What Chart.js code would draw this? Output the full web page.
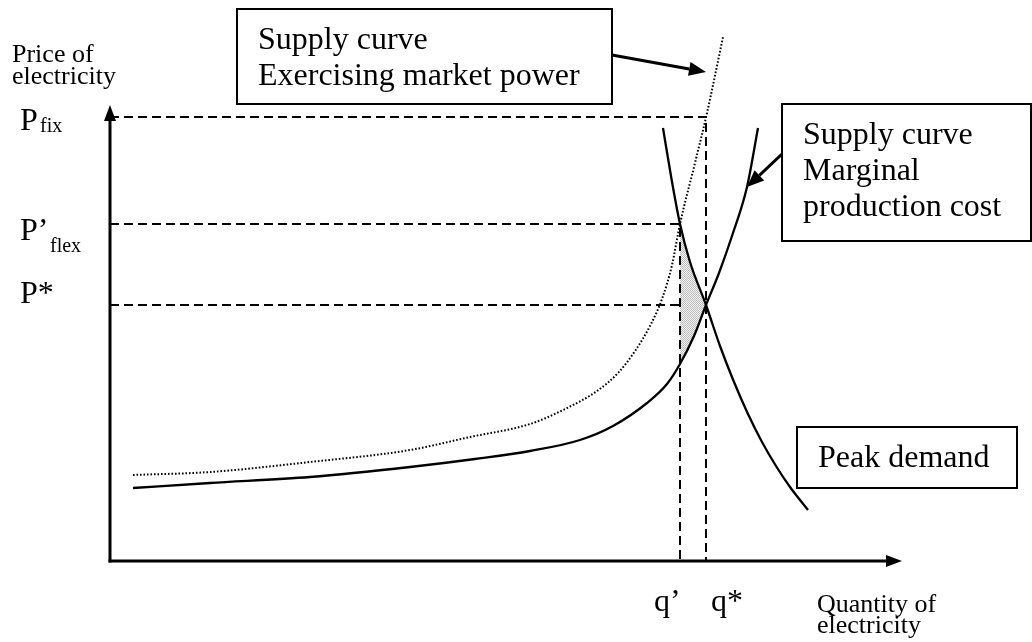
<!DOCTYPE html>
<html>
<head>
<meta charset="utf-8">
<script src="https://cdn.jsdelivr.net/npm/chart.js@4.4.1/dist/chart.umd.min.js"></script>
<style>
  html, body { margin: 0; padding: 0; background: #fff; }
  canvas { display: block; }
</style>
</head>
<body>
<canvas id="chart" width="1032" height="642"></canvas>
<script>
// drawing units: quantity 0..792, price 0..456
const qMax = 792, pMax = 456;

const qPrime = 570, qStar = 596;
const pFix = 444, pFlex = 337, pStar = 256;

// supply curve, marginal production cost (solid)
const mcQ = [23, 100, 200, 300, 365, 420, 470, 503, 537, 557, 570, 584, 596, 609, 622, 637, 648];
const mcP = [73, 78, 84, 94, 102, 110, 121, 135, 158, 177, 197, 225, 256, 288, 325, 374, 433];

// supply curve, exercising market power (dotted)
const mpQ = [23, 100, 200, 300, 360, 420, 453, 487, 508, 525, 540, 552, 562, 570, 585, 597, 613];
const mpP = [86, 89, 99, 111, 124, 137, 151, 170, 188, 210, 235, 262, 296, 337, 398, 448, 524];

// peak demand
const pdQ = [553, 561, 570, 580, 596, 610, 624, 638, 652, 666, 680, 698];
const pdP = [433, 385, 337, 299, 256, 215, 179, 147, 119, 95, 74, 51];

// shaded welfare loss between q' and q*
const shadeQ = [570, 580, 596, 584, 570];
const shadeP = [337, 299, 256, 225, 197];

const priceTicks = [pFix, pFlex, pStar];
const priceMain = ["P", "P\u2019", "P*"];
const priceSub = ["fix", "flex", ""];
const qtyTicks = [qPrime, qStar];
const qtyLabels = ["q\u2019", "q*"];

const pts = (xs, ys) => xs.map((x, i) => ({ x, y: ys[i] }));

const SERIF = '"Liberation Serif", "Times New Roman", serif';

// little stipple like the printed grey
function stipple() {
  const c = document.createElement("canvas");
  c.width = 2; c.height = 2;
  const g = c.getContext("2d");
  g.fillStyle = "#f4f4f4"; g.fillRect(0, 0, 2, 2);
  g.fillStyle = "#bcbcbc"; g.fillRect(0, 0, 1, 1); g.fillRect(1, 1, 1, 1);
  return g.createPattern(c, "repeat");
}

const lineBase = { pointRadius: 0, showLine: true, fill: false, clip: false, borderColor: "#000" };
const dashed = { ...lineBase, borderWidth: 2, borderDash: [9, 5], tension: 0, order: 5 };

function arrow(c, x1, y1, x2, y2, w, len, half) {
  const a = Math.atan2(y2 - y1, x2 - x1);
  const bx = x2 - len * Math.cos(a), by = y2 - len * Math.sin(a);
  c.lineWidth = w;
  c.beginPath(); c.moveTo(x1, y1); c.lineTo(bx, by); c.stroke();
  c.beginPath(); c.moveTo(x2, y2);
  c.lineTo(bx + half * Math.sin(a), by - half * Math.cos(a));
  c.lineTo(bx - half * Math.sin(a), by + half * Math.cos(a));
  c.closePath(); c.fill();
}

function box(c, x, y, w, h, lines, tx, base, step) {
  c.fillStyle = "#fff"; c.fillRect(x, y, w, h);
  c.strokeStyle = "#000"; c.lineWidth = 2; c.strokeRect(x, y, w, h);
  c.fillStyle = "#000"; c.font = "32px " + SERIF;
  lines.forEach((t, i) => c.fillText(t, tx, base + i * step));
}

const sketch = {
  id: "sketch",
  afterDraw(chart) {
    const c = chart.ctx, a = chart.chartArea;
    const xs = chart.scales.x, ys = chart.scales.y;
    c.save();
    c.strokeStyle = "#000"; c.fillStyle = "#000";
    c.lineCap = "butt"; c.setLineDash([]);

    // axes with arrow heads
    arrow(c, a.left, a.bottom + 1.5, a.left, a.top, 3, 16, 6);
    arrow(c, a.left - 1.5, a.bottom, a.right, a.bottom, 3, 16, 6);

    c.textAlign = "left"; c.textBaseline = "alphabetic";

    // axis titles
    c.font = "26px " + SERIF;
    c.fillText("Price of", 12, 62);
    c.fillText("electricity", 12, 84);
    c.fillText("Quantity of", 817, 612);
    c.fillText("electricity", 817, 633);

    // price labels with subscripts
    const pDy = [13, 16, -2], subDy = [2, 12, 0], subDx = [20, 30, 0];
    priceTicks.forEach((v, i) => {
      const y = ys.getPixelForValue(v) + pDy[i];
      c.font = "32px " + SERIF;
      c.fillText(priceMain[i], 20, y);
      if (priceSub[i]) {
        c.font = "20px " + SERIF;
        c.fillText(priceSub[i], 20 + subDx[i], y + subDy[i]);
      }
    });

    // quantity labels
    const qDx = [-26, 5];
    c.font = "32px " + SERIF;
    qtyTicks.forEach((v, i) => c.fillText(qtyLabels[i], xs.getPixelForValue(v) + qDx[i], 611));

    // call-out boxes
    box(c, 237, 9, 375, 95, ["Supply curve", "Exercising market power"], 258, 49, 36);
    box(c, 782, 104, 249, 137, ["Supply curve", "Marginal", "production cost"], 803, 144, 36);
    box(c, 797, 427, 220, 61, ["Peak demand"], 818, 467, 36);

    c.fillStyle = "#000"; c.strokeStyle = "#000";
    arrow(c, 612, 55, xs.getPixelForValue(596), ys.getPixelForValue(489), 3, 17, 7);
    arrow(c, 782, 154, xs.getPixelForValue(637), ys.getPixelForValue(374), 3, 17, 7);
    c.restore();
  }
};

new Chart(document.getElementById("chart"), {
  type: "scatter",
  data: {
    datasets: [
      { ...lineBase, data: pts(shadeQ, shadeP), borderWidth: 0, tension: 0, fill: "shape", backgroundColor: stipple(), order: 10 },
      { ...dashed, data: [{ x: 0, y: pFix }, { x: qStar, y: pFix }, { x: qStar, y: 0 }] },
      { ...dashed, data: [{ x: 0, y: pFlex }, { x: qPrime, y: pFlex }, { x: qPrime, y: 0 }] },
      { ...dashed, data: [{ x: 0, y: pStar }, { x: qPrime, y: pStar }] },
      { ...lineBase, data: pts(mpQ, mpP), borderWidth: 2, borderDash: [1.6, 1.9], cubicInterpolationMode: "monotone", order: 1 },
      { ...lineBase, data: pts(mcQ, mcP), borderWidth: 2.3, cubicInterpolationMode: "monotone", order: 0 },
      { ...lineBase, data: pts(pdQ, pdP), borderWidth: 2.3, cubicInterpolationMode: "monotone", order: 0 },
    ]
  },
  options: {
    responsive: false,
    animation: false,
    events: [],
    layout: { padding: { left: 110, right: 130, top: 105, bottom: 81 } },
    scales: {
      x: { type: "linear", min: 0, max: qMax, display: false },
      y: { type: "linear", min: 0, max: pMax, display: false }
    },
    plugins: { legend: { display: false }, tooltip: { enabled: false } }
  },
  plugins: [sketch]
});
</script>
</body>
</html>
